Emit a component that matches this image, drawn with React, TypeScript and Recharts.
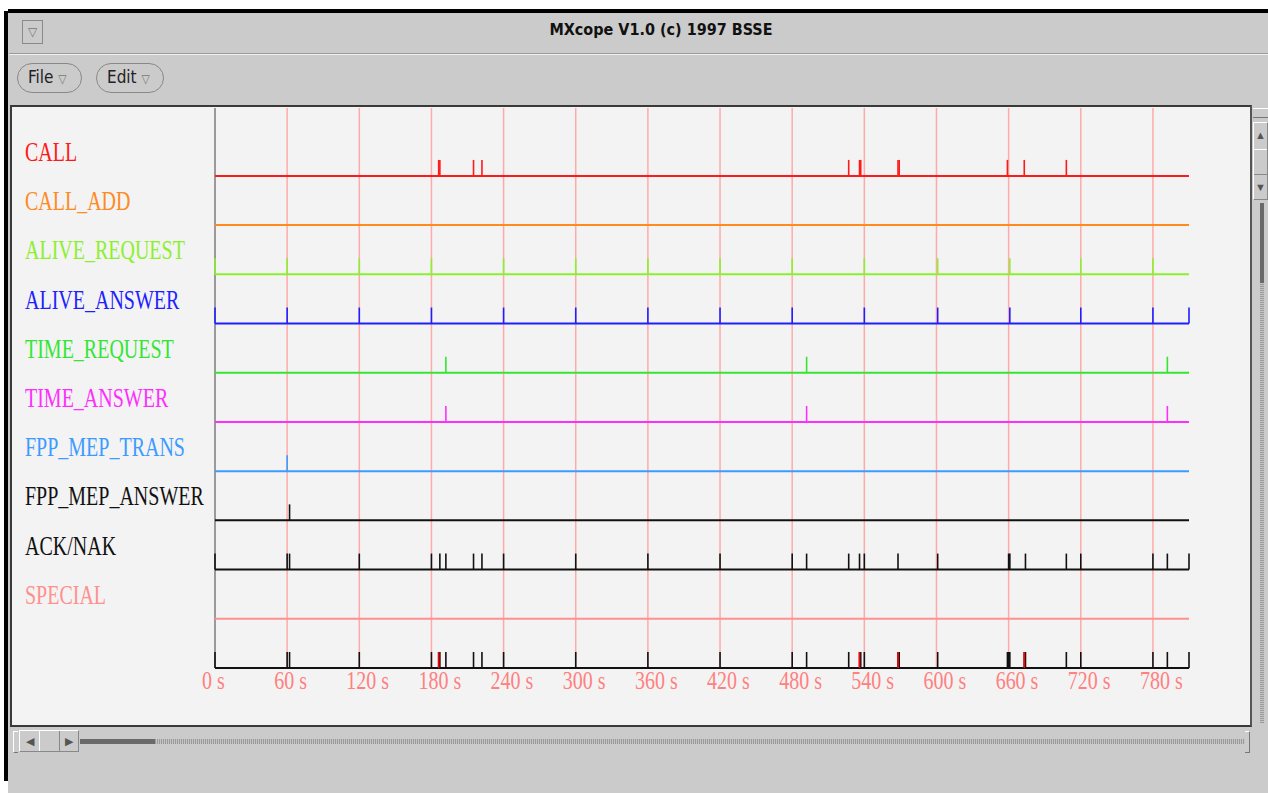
import { ScatterChart, Scatter, XAxis, YAxis, ReferenceLine } from 'recharts';

// event times (seconds) per channel
const callTimes = [186, 187, 215, 222, 527, 536, 537, 568, 569, 659, 673, 708];
const callAddTimes: number[] = [];
const aliveRequestTimes = [0, 60, 120, 180, 240, 300, 360, 420, 480, 540, 601, 661, 720, 780];
const aliveAnswerTimes = [0, 60, 120, 180, 240, 300, 360, 420, 480, 540, 601, 661, 720, 780, 810];
const timeRequestTimes = [192, 492, 792];
const timeAnswerTimes = [192, 492, 792];
const fppTransTimes = [60];
const fppAnswerTimes = [62];
const ackNakTimes = [0, 60, 62, 120, 180, 187, 192, 215, 222, 240, 300, 360, 420, 480, 492, 527, 536, 540, 568, 601, 660, 661, 674, 708, 720, 780, 792, 810];
const specialTimes: number[] = [];
// calls highlighted in the overview row
const overviewCallTimes = [186, 536, 568, 673];

const channelNames = [
  'CALL', 'CALL_ADD', 'ALIVE_REQUEST', 'ALIVE_ANSWER', 'TIME_REQUEST',
  'TIME_ANSWER', 'FPP_MEP_TRANS', 'FPP_MEP_ANSWER', 'ACK/NAK', 'SPECIAL',
];
const channelEvents = [
  callTimes, callAddTimes, aliveRequestTimes, aliveAnswerTimes, timeRequestTimes,
  timeAnswerTimes, fppTransTimes, fppAnswerTimes, ackNakTimes, specialTimes,
];
const xTicks = [0, 60, 120, 180, 240, 300, 360, 420, 480, 540, 600, 660, 720, 780];

const channelColors = [
  '#ff1a1a', '#ff8a1f', '#8cf02e', '#1f1fff', '#33e633',
  '#ff2eff', '#3d9bff', '#111111', '#111111', '#ff9090',
];

const serif = '"Liberation Serif", "Times New Roman", serif';
const SPIKE = 16;

const rowOf = (i: number) => channelNames.length - i;
const overviewTimes = Array.from(new Set(channelEvents.flat())).sort((a, b) => a - b);

const spike = (color: string) => (p: any) => (
  <line x1={p.cx} x2={p.cx} y1={p.cy} y2={p.cy - SPIKE} stroke={color} strokeWidth={1.6} />
);

const RowLabel = (p: any) => {
  const i = channelNames.length - p.payload.value;
  if (i < 0 || i >= channelNames.length) return null;
  return (
    <text
      transform={`translate(13, ${p.y - 15}) scale(1, 1.32)`}
      fill={channelColors[i]}
      fontSize={20}
      fontFamily={serif}
    >
      {channelNames[i]}
    </text>
  );
};

// labels start a little left of their tick, as in the original tool
const TimeLabel = (p: any) => (
  <text
    transform={`translate(${p.x - 13}, ${p.y + 21}) scale(1, 1.3)`}
    textAnchor="start"
    fill="#ff8080"
    fontSize={20}
    fontFamily={serif}
  >
    {`${p.payload.value} s`}
  </text>
);

const hatch = 'repeating-linear-gradient(90deg, #9a9a9a 0 1px, #c4c4c4 1px 2px)';

export default function App() {
  return (
    <div style={{ position: 'absolute', left: 0, top: 0, width: 1268, height: 793, background: '#fff', overflow: 'hidden' }}>
      {/* window frame */}
      <div style={{ position: 'absolute', left: 8, top: 12, width: 1260, height: 781, background: '#cbcbcb' }} />
      <div style={{ position: 'absolute', left: 8, top: 9, width: 1260, height: 4, background: '#000' }} />
      <div style={{ position: 'absolute', left: 4, top: 11, width: 4, height: 770, background: '#000' }} />

      {/* title bar */}
      <div style={{ position: 'absolute', left: 22, top: 20, width: 21, height: 24, border: '1px solid #8a8a8a', boxSizing: 'border-box', color: '#777', fontSize: 12, textAlign: 'center', lineHeight: '22px', fontFamily: 'DejaVu Sans' }}>▽</div>
      <div style={{ position: 'absolute', left: 0, top: 20, width: 1322, textAlign: 'center', fontFamily: '"DejaVu Sans Condensed", "DejaVu Sans", sans-serif', fontWeight: 'bold', fontSize: 16, color: '#111' }}>
        MXcope V1.0 (c) 1997 BSSE
      </div>
      <div style={{ position: 'absolute', left: 9, top: 53, width: 1259, height: 1, background: '#9a9a9a' }} />
      <div style={{ position: 'absolute', left: 9, top: 54, width: 1259, height: 1, background: '#f0f0f0' }} />

      {/* menu */}
      {[{ t: 'File', l: 17, w: 65 }, { t: 'Edit', l: 96, w: 68 }].map((m) => (
        <div key={m.t} style={{ position: 'absolute', left: m.l, top: 63, width: m.w, height: 30, border: '1px solid #888', borderRadius: 15, boxSizing: 'border-box', fontFamily: '"DejaVu Sans Condensed", "DejaVu Sans", sans-serif', fontSize: 17, lineHeight: '27px', paddingLeft: 10, color: '#222' }}>
          {m.t} <span style={{ fontSize: 12, color: '#777' }}>▽</span>
        </div>
      ))}

      {/* plot panel */}
      <div style={{ position: 'absolute', left: 12, top: 107, width: 1238, height: 618, background: '#f3f3f3' }} />
      <div style={{ position: 'absolute', left: 12, top: 107 }}>
        <ScatterChart width={1238} height={618} margin={{ top: 1, right: 61, bottom: 0, left: 0 }}>
          <XAxis
            type="number"
            dataKey="t"
            domain={[0, 810]}
            ticks={xTicks}
            interval={0}
            height={57}
            tickSize={0}
            tickMargin={0}
            axisLine={false}
            tickLine={false}
            tick={<TimeLabel />}
          />
          <YAxis
            type="number"
            dataKey="row"
            domain={[0, 11.38]}
            ticks={channelNames.map((_, i) => rowOf(i))}
            interval={0}
            width={203}
            axisLine={false}
            tickLine={false}
            tick={<RowLabel />}
          />
          {xTicks.slice(1).map((t) => (
            <ReferenceLine key={`g${t}`} x={t} stroke="#ffaaaa" strokeWidth={1.5} />
          ))}
          <ReferenceLine x={0} stroke="#9a9a9a" strokeWidth={2} />
          {channelNames.map((n, i) => (
            <ReferenceLine key={n} y={rowOf(i)} stroke={channelColors[i]} strokeWidth={2} />
          ))}
          <ReferenceLine y={0} stroke="#111" strokeWidth={2} />
          {channelNames.map((n, i) => (
            <Scatter
              key={n}
              name={n}
              data={channelEvents[i].map((t) => ({ t, row: rowOf(i) }))}
              shape={spike(channelColors[i])}
              isAnimationActive={false}
            />
          ))}
          <Scatter
            name="overview"
            data={overviewTimes.map((t) => ({ t, row: 0 }))}
            shape={spike('#111')}
            isAnimationActive={false}
          />
          <Scatter
            name="overview calls"
            data={overviewCallTimes.map((t) => ({ t, row: 0 }))}
            shape={spike('#ff0000')}
            isAnimationActive={false}
          />
        </ScatterChart>
      </div>
      <div style={{ position: 'absolute', left: 10, top: 105, width: 1242, height: 622, border: '2px solid #3a3a3a', borderRightColor: '#555', boxSizing: 'border-box' }} />

      {/* horizontal scrollbar */}
      <div style={{ position: 'absolute', left: 13, top: 731, width: 4, height: 20, borderLeft: '1px solid #fff', borderTop: '1px solid #fff', borderBottom: '1px solid #777' }} />
      <div style={{ position: 'absolute', left: 19, top: 730, width: 60, height: 22, border: '1px solid #888', borderTopColor: '#fff', borderLeftColor: '#fff', boxSizing: 'border-box', display: 'flex' }}>
        <div style={{ width: 20, borderRight: '1px solid #fff', fontSize: 11, lineHeight: '20px', textAlign: 'center', color: '#555' }}>◀</div>
        <div style={{ width: 19, borderRight: '1px solid #888' }} />
        <div style={{ width: 19, fontSize: 11, lineHeight: '20px', textAlign: 'center', color: '#555' }}>▶</div>
      </div>
      <div style={{ position: 'absolute', left: 80, top: 739, width: 75, height: 5, background: '#6a6a6a' }} />
      <div style={{ position: 'absolute', left: 155, top: 739, width: 1090, height: 5, background: hatch }} />
      <div style={{ position: 'absolute', left: 1245, top: 731, width: 4, height: 20, borderRight: '1px solid #777', borderTop: '1px solid #fff', borderBottom: '1px solid #777' }} />

      {/* vertical scrollbar */}
      <div style={{ position: 'absolute', left: 1253, top: 108, width: 15, height: 8, borderTop: '1px solid #fff', borderBottom: '1px solid #777' }} />
      <div style={{ position: 'absolute', left: 1253, top: 122, width: 15, height: 78, border: '1px solid #888', borderTopColor: '#fff', borderLeftColor: '#fff', boxSizing: 'border-box' }}>
        <div style={{ height: 26, borderBottom: '1px solid #fff', fontSize: 11, lineHeight: '24px', textAlign: 'center', color: '#555' }}>▲</div>
        <div style={{ height: 24, borderBottom: '1px solid #888' }} />
        <div style={{ height: 24, fontSize: 11, lineHeight: '24px', textAlign: 'center', color: '#555' }}>▼</div>
      </div>
      <div style={{ position: 'absolute', left: 1260, top: 203, width: 4, height: 520, background: 'repeating-linear-gradient(0deg, #9a9a9a 0 1px, #c4c4c4 1px 2px)' }} />
      <div style={{ position: 'absolute', left: 1260, top: 203, width: 4, height: 80, background: '#6a6a6a' }} />
    </div>
  );
}
